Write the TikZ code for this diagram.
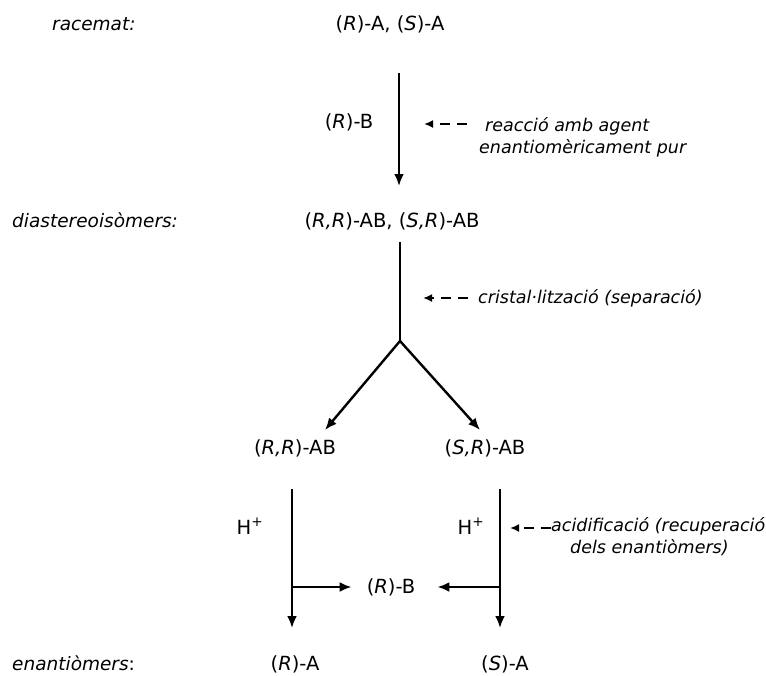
\documentclass[tikz,border=0pt]{standalone}
\usepackage{fontspec}
\setmainfont{DejaVu Sans}
\usetikzlibrary{arrows.meta}

\tikzset{
  lbl/.style={font=\fontsize{19.5}{23}\selectfont, inner sep=0pt, anchor=base},
  row/.style={inner sep=0pt, anchor=base west, font=\fontsize{18.5}{22}\selectfont\itshape},
  side/.style={inner sep=0pt, anchor=base west, font=\fontsize{17.5}{21}\selectfont\itshape},
  rline/.style={line width=2.4pt},
  arr/.style={rline, -{Latex[length=12pt,width=10pt]}},
  dasharr/.style={line width=2pt, dash pattern=on 10pt off 7pt, -{Latex[length=9pt,width=8pt]}}
}

\begin{document}
\begin{tikzpicture}[x=1pt,y=-1pt]
\useasboundingbox (0,0) rectangle (766,675);
% row labels
\node[row] (racemat) at (52,30) {racemat:};
\node[row] (dia) at (12,227) {diastereoisòmers:};
\node[row, font=\fontsize{18.5}{22}\selectfont] (enant) at (12,670) {\textit{enantiòmers}:};
% compounds
\node[lbl] (mix) at (390,30) {(\textit{R})-A, (\textit{S})-A};
\node[lbl] (rb1) at (349,128) {(\textit{R})-B};
\node[lbl] (ab) at (392,227) {(\textit{R,R})-AB, (\textit{S,R})-AB};
\node[lbl] (rrab) at (295,454) {(\textit{R,R})-AB};
\node[lbl] (srab) at (485,454) {(\textit{S,R})-AB};
\node[lbl] (hl) at (250,534) {H\textsuperscript{+}};
\node[lbl] (hr) at (471,534) {H\textsuperscript{+}};
\node[lbl] (rb2) at (391,593) {(\textit{R})-B};
\node[lbl] (ra) at (295,670) {(\textit{R})-A};
\node[lbl] (sa) at (505,670) {(\textit{S})-A};
% notes
\node[side] (n1a) at (485,131) {reacció amb agent};
\node[side] (n1b) at (479,153) {enantiomèricament pur};
\node[side] (n2) at (478,303) {cristal·lització (separació)};
\node[side] (n3a) at (551,531) {acidificació (recuperació};
\node[side] (n3b) at (570,553) {dels enantiòmers)};
% arrow ends
\coordinate (top1) at (399,73);   \coordinate (bot1) at (399,186);
\coordinate (top2) at (400,242);  \coordinate (split) at (400,341);
\coordinate (tipl) at (325,430);  \coordinate (tipr) at (480,430);
\coordinate (topl) at (292,489);  \coordinate (botl) at (292,628);
\coordinate (topr) at (500,489);  \coordinate (botr) at (500,628);
\coordinate (jl) at (292,587);    \coordinate (jr) at (500,587);
% main arrows
\draw[arr] (top1) -- (bot1); % to diastereoisomers
\draw[rline] (top2) -- (split); % crystallisation
\draw[arr] (split) -- (tipl);
\draw[arr] (split) -- (tipr);
\draw[arr] (topl) -- (botl); % left acidification
\draw[arr] (topr) -- (botr); % right acidification
\draw[arr] (jl) -- ([xshift=-15pt]rb2.west |- jl); % recovered B
\draw[arr] (jr) -- ([xshift=22pt]rb2.east |- jr);
% dashed pointers
\draw[dasharr] (467,124) -- (424,124);
\draw[dasharr] (468,298) -- (423,298);
\draw[dasharr] (551,528) -- (510,528);
\end{tikzpicture}
\end{document}
